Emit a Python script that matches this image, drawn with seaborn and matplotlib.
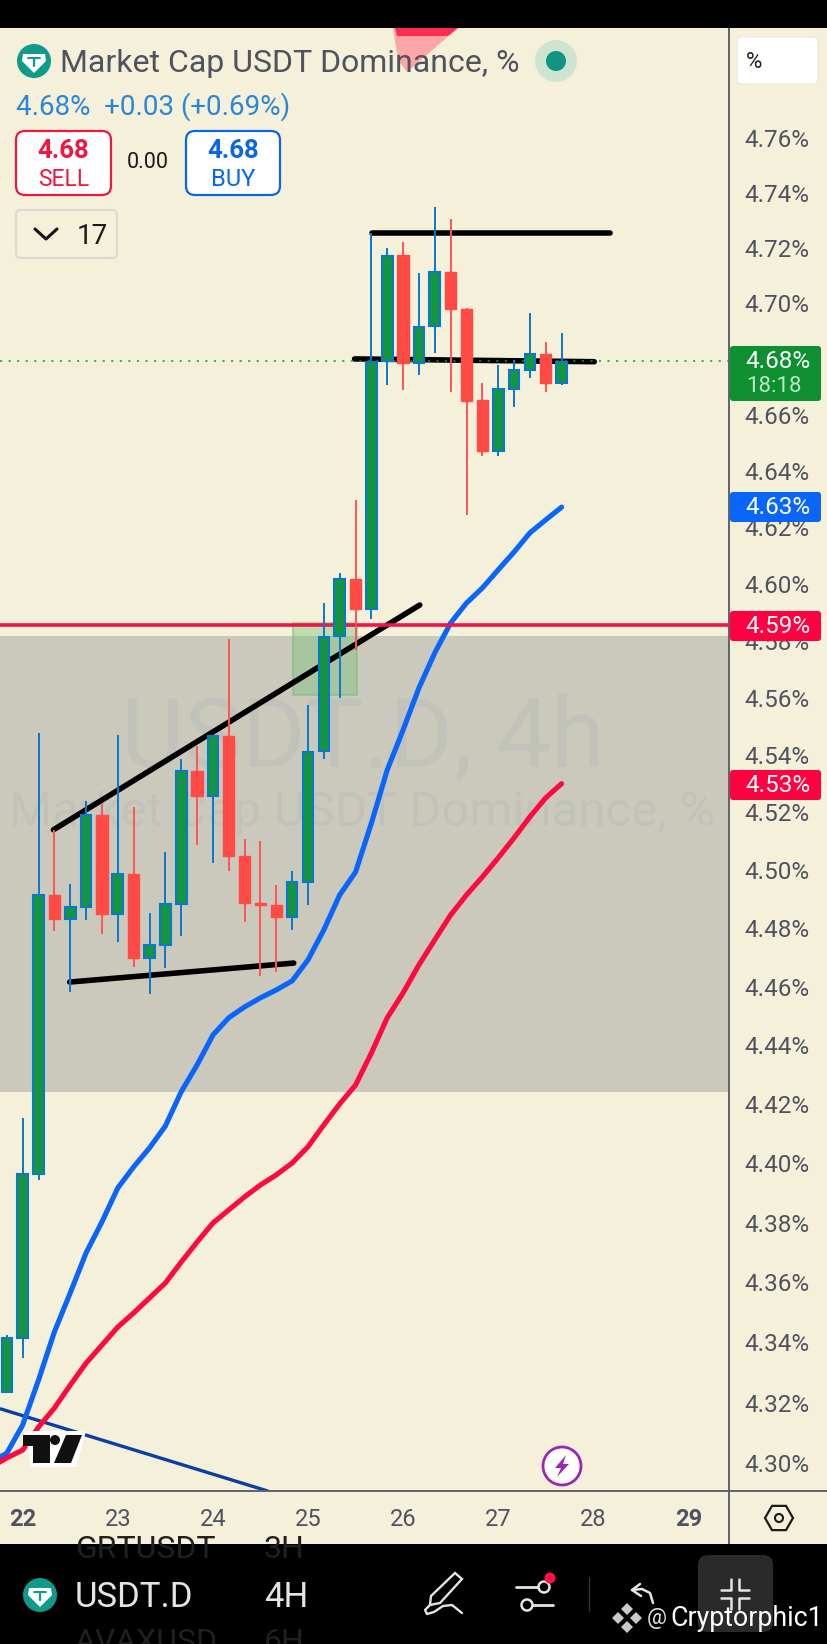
import numpy as np
import pandas as pd
import seaborn as sns
import matplotlib
matplotlib.use('Agg')
import matplotlib.pyplot as plt
from matplotlib.patches import FancyBboxPatch, Polygon, Circle, Rectangle, RegularPolygon
from matplotlib.ticker import NullLocator, NullFormatter

# candles, 4h bars
opens = [4.3235, 4.3415, 4.3964, 4.4915, 4.4832, 4.4874, 4.5192, 4.4850, 4.4988, 4.4700, 4.4743, 4.4884,
         4.5344, 4.5258, 4.5466, 4.5050, 4.4888, 4.4881, 4.4840, 4.4960, 4.5414, 4.5816, 4.6017, 4.5911,
         4.6793, 4.7175, 4.6786, 4.6919, 4.7113, 4.6980, 4.6653, 4.6471, 4.6692, 4.6760, 4.6818, 4.6714]
highs = [4.3425, 4.4153, 4.5477, 4.5140, 4.4953, 4.5240, 4.5233, 4.5470, 4.5220, 4.4853, 4.5064, 4.5386,
         4.5431, 4.5466, 4.5806, 4.5109, 4.5102, 4.4950, 4.4998, 4.5575, 4.5932, 4.6038, 4.6297, 4.7254,
         4.7200, 4.7222, 4.7109, 4.7349, 4.7305, 4.6983, 4.6714, 4.6778, 4.6796, 4.6965, 4.6861, 4.6894]
lows = [4.3235, 4.3348, 4.3944, 4.4791, 4.4582, 4.4829, 4.4780, 4.4754, 4.4668, 4.4575, 4.4665, 4.4774,
        4.5088, 4.5026, 4.4998, 4.4822, 4.4637, 4.4650, 4.4795, 4.4881, 4.5386, 4.5599, 4.5767, 4.5876,
        4.6707, 4.6689, 4.6743, 4.6822, 4.6682, 4.6243, 4.6453, 4.6453, 4.6628, 4.6732, 4.6682, 4.6707]
closes = [4.3415, 4.3964, 4.4915, 4.4832, 4.4874, 4.5192, 4.4850, 4.4988, 4.4700, 4.4743, 4.4884, 4.5344,
          4.5258, 4.5466, 4.5050, 4.4888, 4.4881, 4.4840, 4.4960, 4.5410, 4.5813, 4.6017, 4.5911, 4.6789,
          4.7171, 4.6786, 4.6915, 4.7113, 4.6980, 4.6649, 4.6471, 4.6692, 4.6760, 4.6818, 4.6714, 4.6789]

# moving averages start one bar earlier, off the left edge
ma_fast = [4.3003, 4.3033, 4.3126, 4.3275, 4.3435, 4.3565, 4.3699, 4.3803, 4.3917, 4.3988, 4.4052, 4.4126, 4.4242,
           4.4333, 4.4435, 4.4494, 4.4531, 4.4562, 4.4589, 4.4620, 4.4692, 4.4795, 4.4915, 4.4994, 4.5163,
           4.5348, 4.5487, 4.5634, 4.5757, 4.5862, 4.5932, 4.5985, 4.6049, 4.6112, 4.6180, 4.6226, 4.6271]
ma_slow = [4.2987, 4.3017, 4.3043, 4.3119, 4.3182, 4.3258, 4.3331, 4.3391, 4.3451, 4.3498, 4.3548, 4.3598, 4.3668,
           4.3735, 4.3799, 4.3843, 4.3887, 4.3927, 4.3961, 4.4001, 4.4056, 4.4130, 4.4201, 4.4265, 4.4374,
           4.4494, 4.4579, 4.4675, 4.4761, 4.4846, 4.4915, 4.4977, 4.5043, 4.5112, 4.5185, 4.5251, 4.5300]

price_ticks = [4.30, 4.32, 4.34, 4.36, 4.38, 4.40, 4.42, 4.44, 4.46, 4.48, 4.50, 4.52, 4.54, 4.56, 4.58,
               4.60, 4.62, 4.64, 4.66, 4.68, 4.70, 4.72, 4.74, 4.76]
day_ticks = [22, 23, 24, 25, 26, 27, 28, 29]

# drawings on the chart
zone_top, zone_bottom = 4.5816, 4.4242
level_red = 4.5855
last_price = 4.6793
top_line_x, top_line_y = [25.67, 28.18], [4.7254, 4.7254]
mid_line_x, mid_line_y = [25.49, 28.01], [4.6800, 4.6790]
rise_line_x, rise_line_y = [22.323, 26.175], [4.5140, 4.5925]
base_line_x, base_line_y = [22.494, 24.85], [4.4616, 4.4681]
navy_line_x, navy_line_y = [21.769, 24.576], [4.3179, 4.2908]
box_x, box_y = [24.84, 25.52], [4.5609, 4.5862]

UP_BODY = '#13963F'
UP_EDGE = '#0A78CC'
DOWN = '#FF4A45'
BG = '#F5F0D9'
TXT = '#50535E'

sns.set_theme(style='white')
plt.rcParams['font.family'] = ['Roboto', 'DejaVu Sans']

W, H = 828, 1644
fig = plt.figure(figsize=(W / 100, H / 100), dpi=100, facecolor=BG)
ax = fig.add_axes([0, 1 - 1491 / H, 729 / W, (1491 - 28) / H], facecolor=BG)

df = pd.DataFrame({'open': opens, 'high': highs, 'low': lows, 'close': closes})
df['day'] = 22 + (df.index - 1) / 6
df['up'] = df['close'] >= df['open']
ma = pd.DataFrame({'fast': ma_fast, 'slow': ma_slow})
ma['day'] = 22 + (ma.index - 2) / 6

ax.set_yscale('log')

ax.axhspan(zone_bottom, zone_top, color='#CBC9BC', lw=0, zorder=1)
ax.text(0.498, 0.513, 'USDT.D, 4h', transform=ax.transAxes, ha='center', va='center', fontsize=70,
        color='#2A6A9A', alpha=0.06, zorder=1.5)
ax.text(0.4975, 0.4635, 'Market Cap USDT Dominance, %', transform=ax.transAxes, ha='center', va='center',
        fontsize=35.5, color='#2A6A9A', alpha=0.06, zorder=1.5)

ax.add_patch(Rectangle((box_x[0], box_y[0]), box_x[1] - box_x[0], box_y[1] - box_y[0], fc='#7CC47F', ec='#6DBB70',
                       alpha=0.45, lw=1.5, zorder=2))

for xs, ys in [(top_line_x, top_line_y), (mid_line_x, mid_line_y), (rise_line_x, rise_line_y),
               (base_line_x, base_line_y)]:
    ax.plot(xs, ys, color='black', lw=4.0, solid_capstyle='round', zorder=2.5)
ax.plot(navy_line_x, navy_line_y, color='#0A3EA0', lw=2.4, zorder=2.5)

sns.lineplot(data=ma, x='day', y='fast', color='#0A66FA', lw=3.7, ax=ax, zorder=2.6, solid_capstyle='round')
sns.lineplot(data=ma, x='day', y='slow', color='#FF0A40', lw=3.7, ax=ax, zorder=2.6, solid_capstyle='round')

ax.axhline(level_red, color='#F0144A', lw=2.6, zorder=2.7)
ax.axhline(last_price, color='#13963F', lw=1.1, ls=(0, (1.4, 4.2)), zorder=2.8)

# wicks first, bodies over them
ups = df[df['up']]
downs = df[~df['up']]
ax.vlines(ups['day'], ups['low'], ups['high'], color=UP_EDGE, lw=1.4, zorder=3)
ax.vlines(downs['day'], downs['low'], downs['high'], color='#FF5555', lw=1.4, zorder=3)
ax.bar(ups['day'], ups['close'] - ups['open'], bottom=ups['open'], width=0.112, color=UP_BODY,
       edgecolor=UP_EDGE, lw=1.5, zorder=4)
ax.bar(downs['day'], downs['open'] - downs['close'], bottom=downs['close'], width=0.118, color=DOWN,
       edgecolor=DOWN, lw=1.0, zorder=4)

ax.set_xlim(22 - 22.7 / 95.1, 22 + 706.3 / 95.1)
ax.set_ylim(4.2908, 4.8003)

ax.yaxis.tick_right()
ax.yaxis.set_minor_locator(NullLocator())
ax.yaxis.set_minor_formatter(NullFormatter())
ax.set_yticks(price_ticks)
ax.set_yticklabels([f'{p:.2f}%' for p in price_ticks])
ax.set_xticks(day_ticks)
ax.set_xticklabels(day_ticks)
ax.set_xlabel('')
ax.set_ylabel('')
ax.tick_params(axis='y', length=0, pad=11, labelsize=17.5, labelcolor=TXT)
ax.tick_params(axis='x', length=0, pad=12, labelsize=17, labelcolor=TXT)
for lab in ax.get_xticklabels():
    if lab.get_text() in ('22', '29'):
        lab.set_fontweight('bold')
for side in ('top', 'left'):
    ax.spines[side].set_visible(False)
for side in ('bottom', 'right'):
    ax.spines[side].set_color('#5F626C')
    ax.spines[side].set_linewidth(1.4)

# screen furniture, in pixels of the screenshot
ov = fig.add_axes([0, 0, 1, 1], facecolor='none')
ov.set_xlim(0, W)
ov.set_ylim(H, 0)
ov.axis('off')


def rbox(x0, y0, x1, y1, fc, ec='none', lw=0, r=6, z=5):
    ov.add_patch(FancyBboxPatch((x0 + r, y0 + r), x1 - x0 - 2 * r, y1 - y0 - 2 * r, boxstyle=f'round,pad={r},rounding_size={r}',
                                fc=fc, ec=ec, lw=lw, zorder=z))


def tether(cx, cy):
    ov.add_patch(Circle((cx, cy), 17, fc='#0F9A8A', ec='none', zorder=6))
    ov.add_patch(Polygon([(cx - 11, cy - 7), (cx + 11, cy - 7), (cx + 12, cy), (cx, cy + 12), (cx - 12, cy)],
                         fc='white', ec='none', zorder=7))
    ov.plot([cx - 6, cx + 6], [cy - 3, cy - 3], color='#0F9A8A', lw=1.4, zorder=8)
    ov.plot([cx, cx], [cy - 3, cy + 5], color='#0F9A8A', lw=1.6, zorder=8)


ov.add_patch(Rectangle((0, 0), W, 28, fc='black', ec='none', zorder=5))
ov.add_patch(Polygon([(393, 28), (458, 28), (407, 72), (398, 60)], fc='#FF8E96', ec='none', alpha=0.75, zorder=4))
ov.add_patch(Polygon([(395, 28), (458, 28), (448, 36), (397, 36)], fc='#FF1F45', ec='none', alpha=0.9, zorder=4.5))

tether(34, 61)
ov.text(60, 64, 'Market Cap USDT Dominance, %', fontsize=23, color=TXT, va='center', zorder=6)
ov.add_patch(Circle((556, 61), 21, fc='#CDE5D0', ec='none', zorder=6))
ov.add_patch(Circle((556, 61), 10, fc='#119480', ec='none', zorder=7))
ov.text(16, 107, '4.68%  +0.03 (+0.69%)', fontsize=20, color='#2A86D8', va='center', zorder=6)

rbox(16, 131, 111, 195, 'white', ec='#F0173F', lw=1.6, r=9)
ov.text(63.5, 151, '4.68', fontsize=18.5, color='#F0173F', fontweight='bold', ha='center', va='center', zorder=6)
ov.text(63.5, 179, 'SELL', fontsize=16.5, color='#F0173F', ha='center', va='center', zorder=6)
ov.text(148, 163, '0.00', fontsize=15.5, color='#1A1A1A', ha='center', va='center', zorder=6)
rbox(186, 131, 280, 195, 'white', ec='#0A66E8', lw=1.6, r=9)
ov.text(233, 151, '4.68', fontsize=18.5, color='#0A66E8', fontweight='bold', ha='center', va='center', zorder=6)
ov.text(233, 179, 'BUY', fontsize=17, color='#0A66E8', ha='center', va='center', zorder=6)

rbox(16, 210, 117, 258, 'none', ec='#D9D9D5', lw=1.5, r=5)
ov.plot([35, 46, 57], [229, 239, 229], color='#141414', lw=2.2, zorder=6)
ov.text(92, 236, '17', fontsize=20, color='#1A1A1A', ha='center', va='center', zorder=6)

rbox(737, 37, 818, 84, 'white', ec='#EEEBDD', lw=1, r=5)
ov.text(754, 63, '%', fontsize=16, color='#222222', ha='center', va='center', zorder=6)

# price badges
badges = [(346, 401, '#0F9030'), (492, 522, '#0A66FA'), (611, 641, '#FF0040'), (770, 800, '#FF0040')]
for y0, y1, col in badges:
    ov.add_patch(FancyBboxPatch((733, y0 + 3), 85, y1 - y0 - 6, boxstyle='round,pad=3,rounding_size=3',
                                fc=col, ec='none', zorder=6))
ov.text(745, 361, '4.68%', fontsize=17.5, color='white', va='center', zorder=7)
ov.text(746, 386, '18:18', fontsize=16, color='#BFE3C6', va='center', zorder=7)
ov.text(745, 507, '4.63%', fontsize=17.5, color='white', va='center', zorder=7)
ov.text(745, 626, '4.59%', fontsize=17.5, color='white', va='center', zorder=7)
ov.text(745, 785, '4.53%', fontsize=17.5, color='white', va='center', zorder=7)

# tradingview mark
ov.add_patch(Polygon([(25, 1431), (86, 1431), (76, 1467), (31, 1467)], fc='white', ec='none', zorder=6))
ov.add_patch(Polygon([(23, 1435), (50, 1435), (50, 1463), (33, 1463), (33, 1446), (23, 1446)], fc='#111111', ec='none', zorder=7))
ov.add_patch(Circle((55, 1440), 5, fc='#111111', ec='none', zorder=7))
ov.add_patch(Polygon([(66, 1435), (82, 1435), (71, 1463), (54, 1463)], fc='#111111', ec='none', zorder=7))

# lightning badge
ov.add_patch(Circle((562, 1466), 19, fc='white', ec='#9C27B0', lw=2, zorder=6))
ov.add_patch(Polygon([(566, 1455), (555, 1468), (561, 1468), (557, 1477), (569, 1464), (563, 1464)],
                     fc='#9C27B0', ec='none', zorder=7))

# bottom of the scale
ov.plot([729, W], [1491, 1491], color='#5F626C', lw=1.4, zorder=5)
ov.plot([729, 729], [1491, 1544], color='#5F626C', lw=1.4, zorder=5)
ov.add_patch(RegularPolygon((779, 1518), 6, radius=14, orientation=np.pi / 6, fc='none', ec='#1A1A1A', lw=1.6, zorder=6))
ov.add_patch(Circle((779, 1518), 4, fc='none', ec='#1A1A1A', lw=1.5, zorder=6))

# phone toolbar, the scrolled list behind it is cut by the bar
bar = Rectangle((0, 1544), W, 100, fc='black', ec='none', zorder=5)
ov.add_patch(bar)
for tx, ty, label in [(75, 1549, 'GRTUSDT'), (264, 1549, '3H'), (75, 1642, 'AVAXUSD'), (264, 1642, '6H')]:
    t = ov.text(tx, ty, label, fontsize=23, color='#202020', va='center', zorder=6)
    t.set_clip_path(bar)
tether(40, 1595)
ov.text(75, 1597, 'USDT.D', fontsize=25, color='#E4E4E4', va='center', zorder=6)
ov.text(264, 1597, '4H', fontsize=25, color='#E4E4E4', va='center', zorder=6)

# pen
ov.add_patch(Polygon([(431, 1596), (455, 1573), (462, 1579), (440, 1603), (430, 1605)], fc='none', ec='#E4E4E4', lw=1.7, zorder=6))
ov.plot([430, 425, 427, 434, 443, 452, 462], [1605, 1610, 1614, 1612, 1606, 1605, 1613], color='#E4E4E4', lw=1.7, zorder=6)
# sliders
ov.plot([516, 540], [1587, 1587], color='#E4E4E4', lw=2, zorder=6)
ov.plot([530, 553], [1605, 1605], color='#E4E4E4', lw=2, zorder=6)
ov.add_patch(Circle((527, 1605), 5.5, fc='black', ec='#E4E4E4', lw=1.8, zorder=6))
ov.add_patch(Circle((544, 1587), 5.5, fc='black', ec='#E4E4E4', lw=1.8, zorder=6))
ov.add_patch(Circle((550, 1578), 5.5, fc='#FF1040', ec='none', zorder=7))
ov.plot([589, 589], [1577, 1611], color='#333333', lw=1, zorder=6)
# undo
ov.plot([653, 650, 642, 632], [1603, 1593, 1589, 1590], color='#E4E4E4', lw=1.8, zorder=6)
ov.plot([640, 632, 641], [1584, 1590, 1596], color='#E4E4E4', lw=1.8, zorder=6)

rbox(698, 1555, 773, 1632, '#2A2A2A', r=10, z=5.5)
for sx, sy in [(-1, -1), (1, -1), (-1, 1), (1, 1)]:
    ov.plot([735 + sx * 14, 735 + sx * 4, 735 + sx * 4], [1594 + sy * 4, 1594 + sy * 4, 1594 + sy * 15],
            color='#E4E4E4', lw=1.8, zorder=6)

# binance stamp
for dx, dy in [(0, -9), (-9, 0), (9, 0), (0, 9)]:
    ov.add_patch(RegularPolygon((627 + dx, 1618 + dy), 4, radius=6, fc='#C9C9C9', ec='none', zorder=7))
ov.text(647, 1618, '@', fontsize=16, color='#DDDDDD', va='center', zorder=7)
ov.text(670, 1618, 'Cryptorphic1', fontsize=19.3, color='white', va='center', zorder=7)

fig.savefig('out.png', dpi=100, facecolor=BG)
